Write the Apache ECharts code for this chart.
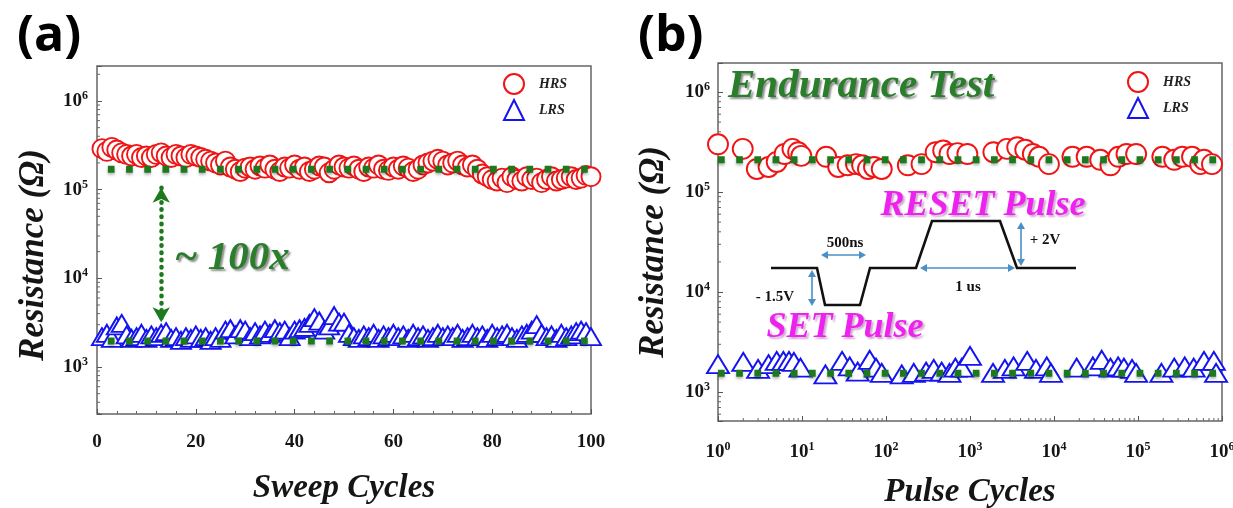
<!DOCTYPE html>
<html><head><meta charset="utf-8">
<script src="https://cdn.jsdelivr.net/npm/echarts@6/dist/echarts.min.js"></script>
<style>html,body{margin:0;padding:0;background:#fff;}#c{width:1233px;height:508px;}</style>
</head><body><div id="c"></div>
<script>
// ---------- DATA ----------
const sweepCycles = [1,2,3,4,5,6,7,8,9,10,11,12,13,14,15,16,17,18,19,20,21,22,23,24,25,26,27,28,29,30,31,32,33,34,35,36,37,38,39,40,41,42,43,44,45,46,47,48,49,50,51,52,53,54,55,56,57,58,59,60,61,62,63,64,65,66,67,68,69,70,71,72,73,74,75,76,77,78,79,80,81,82,83,84,85,86,87,88,89,90,91,92,93,94,95,96,97,98,99,100];
const sweepHRS = [2.9e5,2.7e5,3.0e5,2.8e5,2.6e5,2.5e5,2.4e5,2.5e5,2.3e5,2.4e5,
  2.3e5,2.5e5,2.6e5,2.4e5,2.3e5,2.5e5,2.4e5,2.3e5,2.5e5,2.4e5,
  2.3e5,2.2e5,2.1e5,2.0e5,1.9e5,2.1e5,1.8e5,1.7e5,1.6e5,1.75e5,
  1.8e5,1.7e5,1.85e5,1.75e5,1.9e5,1.7e5,1.6e5,1.8e5,1.75e5,1.9e5,
  1.7e5,1.8e5,1.6e5,1.7e5,1.85e5,1.8e5,1.55e5,1.7e5,1.9e5,1.8e5,
  1.75e5,1.85e5,1.7e5,1.6e5,1.8e5,1.75e5,1.9e5,1.7e5,1.65e5,1.8e5,
  1.7e5,1.85e5,1.75e5,1.6e5,1.7e5,1.9e5,2.0e5,2.1e5,2.2e5,2.1e5,
  1.9e5,2.0e5,2.1e5,1.9e5,1.8e5,1.9e5,1.7e5,1.5e5,1.4e5,1.3e5,
  1.25e5,1.35e5,1.2e5,1.4e5,1.3e5,1.25e5,1.4e5,1.3e5,1.35e5,1.2e5,
  1.3e5,1.4e5,1.25e5,1.3e5,1.35e5,1.4e5,1.3e5,1.35e5,1.45e5,1.4e5];
const sweepLRS = [2.2e3,2.4e3,2.1e3,2.9e3,3.1e3,2.3e3,2.1e3,2.2e3,2.4e3,2.1e3,
  2.3e3,2.2e3,2.4e3,2.5e3,2.1e3,2.2e3,2.0e3,2.2e3,2.1e3,2.3e3,
  2.1e3,2.2e3,2.0e3,2.2e3,2.1e3,2.6e3,2.7e3,2.3e3,2.7e3,2.6e3,
  2.2e3,2.5e3,2.3e3,2.6e3,2.4e3,2.7e3,2.5e3,2.6e3,2.2e3,2.6e3,
  2.7e3,2.8e3,3.1e3,3.6e3,3.3e3,2.6e3,2.9e3,3.8e3,3.2e3,3.2e3,
  2.4e3,2.2e3,2.1e3,2.3e3,2.2e3,2.4e3,2.1e3,2.3e3,2.2e3,2.4e3,
  2.2e3,2.3e3,2.1e3,2.4e3,2.2e3,2.3e3,2.1e3,2.2e3,2.4e3,2.2e3,
  2.3e3,2.2e3,2.4e3,2.1e3,2.2e3,2.4e3,2.2e3,2.3e3,2.1e3,2.4e3,
  2.2e3,2.3e3,2.4e3,2.2e3,2.1e3,2.3e3,2.4e3,2.6e3,3.0e3,2.4e3,
  2.2e3,2.3e3,2.1e3,2.4e3,2.2e3,2.3e3,2.5e3,2.6e3,2.5e3,2.2e3];
const sweepRefHRS = 1.7e5;
const sweepRefLRS = 1.97e3;
const sweepRefX = [2.2, 99.5];
const sweepArrowX = 13;
const sweepArrowEnds = [1.05e5, 3.2e3];

const pulseCyclesHRS = [1,1.97,2.9,4,5,6.2,7.7,9,9.8,19.4,27,35,44,52,61,72,89,182,265,390,480,570,710,930,1900,2750,3650,4550,5600,6650,8700,16600,24500,35500,47000,58500,73000,95000,195000,270000,337000,440000,550000,610000,760000];
const pulseHRS = [3.0e5,2.7e5,1.7e5,1.78e5,2.0e5,2.4e5,2.7e5,2.5e5,2.3e5,2.25e5,1.78e5,1.85e5,1.9e5,1.85e5,1.7e5,1.78e5,1.7e5,1.85e5,1.9e5,2.5e5,2.6e5,2.4e5,2.45e5,2.4e5,2.5e5,2.7e5,2.8e5,2.65e5,2.4e5,2.25e5,1.9e5,2.25e5,2.25e5,2.1e5,1.85e5,2.25e5,2.4e5,2.4e5,2.25e5,2.1e5,2.25e5,2.25e5,1.9e5,2.1e5,1.9e5];
const pulseCyclesLRS = [1,2,3,4,5,6,7,8,9.6,19,30,37,46,64,76,89,154,214,300,370,460,570,670,800,1000,1880,2600,3300,4800,6100,8200,9200,18600,29000,37000,47000,58000,68000,85000,95000,190000,270000,360000,460000,610000,800000,850000];
const pulseLRS = [1.9e3,2.0e3,1.7e3,1.9e3,2.05e3,2.05e3,2.05e3,2.0e3,1.75e3,1.5e3,2.05e3,1.8e3,1.6e3,2.1e3,1.75e3,1.55e3,1.5e3,1.55e3,1.6e3,1.7e3,1.6e3,1.55e3,1.75e3,1.75e3,2.3e3,1.55e3,1.7e3,1.8e3,2.05e3,1.7e3,1.8e3,1.55e3,1.75e3,1.8e3,2.1e3,1.75e3,1.8e3,1.75e3,1.7e3,1.55e3,1.55e3,1.75e3,1.8e3,1.75e3,2.05e3,2.05e3,1.55e3];
const pulseRefHRS = 2.1e5;
const pulseRefLRS = 1.54e3;
const pulseRefX = [1, 850000];

const xTicksSweep = [0,20,40,60,80,100];
const minorMultipliers = [2,3,4,5,6,7,8,9];

// ---------- STYLE ----------
const serif = '"Liberation Serif","DejaVu Serif",serif';
const red = '#f01414', blue = '#1414f0', green = '#1c7a1c';
const titleFont = {fontFamily: serif, fontWeight: 'bold', fontStyle: 'italic', fontSize: 33, color: '#151515'};
const yTitleFont = Object.assign({}, titleFont, {fontSize: 35});
const richPow = {
  b: {fontFamily: serif, fontWeight: 'bold', fontSize: 19, color: '#151515', lineHeight: 22},
  s: {fontFamily: serif, fontWeight: 'bold', fontSize: 12, color: '#151515', verticalAlign: 'top', lineHeight: 12}
};
function pow10Label(v) {
  const e = Math.log10(v), r = Math.round(e);
  if (Math.abs(e - r) > 1e-6) return '';
  return '{b|10}{s|' + r + '}';
}
function minorValues(lo, hi) {
  const out = [];
  for (let d = Math.floor(Math.log10(lo)); d <= Math.ceil(Math.log10(hi)); d++) {
    minorMultipliers.forEach(m => { const v = m * Math.pow(10, d); if (v > lo && v < hi) out.push(v); });
  }
  return out;
}
const yA = [295, 2.48e6], yB = [513, 1.95e6], xB = [1, 1e6];

function yMinorSeries(gi, xMin, range) {
  return {type: 'custom', xAxisIndex: gi, yAxisIndex: gi, silent: true, z: 1,
    data: minorValues(range[0], range[1]).map(v => [xMin, v]),
    renderItem: (p, api) => { const c = api.coord([api.value(0), api.value(1)]);
      return {type: 'line', shape: {x1: c[0], y1: c[1], x2: c[0] + 3, y2: c[1]}, style: {stroke: '#666', lineWidth: 1}}; }};
}
function xMinorSeries(gi, yMin, range) {
  return {type: 'custom', xAxisIndex: gi, yAxisIndex: gi, silent: true, z: 1,
    data: minorValues(range[0], range[1]).map(v => [v, yMin]),
    renderItem: (p, api) => { const c = api.coord([api.value(0), api.value(1)]);
      return {type: 'line', shape: {x1: c[0], y1: c[1], x2: c[0], y2: c[1] - 3}, style: {stroke: '#666', lineWidth: 1}}; }};
}
const refLine = (gi, xs, v) => ({type: 'line', xAxisIndex: gi, yAxisIndex: gi, silent: true, z: 5,
  data: [[xs[0], v], [xs[1], v]], symbol: 'none',
  lineStyle: {color: green, width: 7, type: [6.7, 11.5], cap: 'butt', shadowColor: 'rgba(0,0,0,0.3)', shadowBlur: 3, shadowOffsetY: 2}});
const scatter = (gi, name, xs, ys, sym, size, col) => ({type: 'scatter', name, xAxisIndex: gi, yAxisIndex: gi, z: 3,
  symbol: sym, symbolSize: size, data: xs.map((x, i) => [x, ys[i]]),
  itemStyle: {color: '#fff', borderColor: col, borderWidth: 1.9, opacity: 1}});

const axisTickStyle = {show: true, inside: true, length: 5, lineStyle: {color: '#555', width: 1}};
const legendText = {fontFamily: serif, fontWeight: 'bold', fontStyle: 'italic', fontSize: 14, color: '#222', padding: [0, 0, 0, 10]};

const chart = echarts.init(document.getElementById('c'), null, {renderer: 'canvas'});
const ann = {fontFamily: serif, fontWeight: 'bold', fill: '#111', fontSize: 15};
function dblArrowH(x1, x2, y) {
  return [
    {type: 'line', shape: {x1: x1 + 3, y1: y, x2: x2 - 3, y2: y}, style: {stroke: '#4a8fc6', lineWidth: 1.6}},
    {type: 'polygon', shape: {points: [[x1, y], [x1 + 7, y - 4], [x1 + 7, y + 4]]}, style: {fill: '#4a8fc6'}},
    {type: 'polygon', shape: {points: [[x2, y], [x2 - 7, y - 4], [x2 - 7, y + 4]]}, style: {fill: '#4a8fc6'}}
  ];
}
function dblArrowV(x, y1, y2) {
  return [
    {type: 'line', shape: {x1: x, y1: y1 + 3, x2: x, y2: y2 - 3}, style: {stroke: '#4a8fc6', lineWidth: 1.6}},
    {type: 'polygon', shape: {points: [[x, y1], [x - 4, y1 + 7], [x + 4, y1 + 7]]}, style: {fill: '#4a8fc6'}},
    {type: 'polygon', shape: {points: [[x, y2], [x - 4, y2 - 7], [x + 4, y2 - 7]]}, style: {fill: '#4a8fc6'}}
  ];
}
const shadowGreen = {fill: '#2a7d2a', textShadowColor: 'rgba(0,0,0,0.45)', textShadowBlur: 2, textShadowOffsetX: 2, textShadowOffsetY: 2};
const shadowPink = {fill: '#ee22ee', textShadowColor: 'rgba(120,0,120,0.35)', textShadowBlur: 2, textShadowOffsetX: 2, textShadowOffsetY: 2};
const panelFont = {fontFamily: '"Open Sans", Lato, sans-serif', fontWeight: 'bold', fontSize: 50, fill: '#000'};

const option = {
  animation: false,
  backgroundColor: '#fff',
  grid: [
    {left: 97, top: 66, width: 494, height: 348, show: true, borderColor: '#666', borderWidth: 1.5, containLabel: false, outerBoundsMode: 'none'},
    {left: 718, top: 63, width: 504, height: 358, show: true, borderColor: '#666', borderWidth: 1.5, containLabel: false, outerBoundsMode: 'none'}
  ],
  legend: [
    {data: ['HRS', 'LRS'], orient: 'vertical', left: 498, top: 68, itemWidth: 20, itemHeight: 20, itemGap: 4, selectedMode: false, textStyle: legendText},
    {data: ['HRS', 'LRS'], orient: 'vertical', left: 1122, top: 66, itemWidth: 20, itemHeight: 20, itemGap: 4, selectedMode: false, textStyle: legendText}
  ],
  xAxis: [
    {gridIndex: 0, type: 'value', min: xTicksSweep[0], max: xTicksSweep[xTicksSweep.length - 1], interval: 20,
     axisLine: {show: false}, axisTick: axisTickStyle, minorTick: {show: true, splitNumber: 5, length: 3, lineStyle: {color: '#666'}},
     splitLine: {show: false},
     axisLabel: {margin: 19, fontFamily: serif, fontWeight: 'bold', fontSize: 19, color: '#151515'},
     name: 'Sweep Cycles', nameLocation: 'middle', nameGap: 58, nameTextStyle: titleFont},
    {gridIndex: 1, type: 'log', logBase: 10, min: xB[0], max: xB[1],
     axisLine: {show: false}, axisTick: axisTickStyle, splitLine: {show: false},
     axisLabel: {margin: 20, formatter: pow10Label, rich: richPow, showMinLabel: true, showMaxLabel: true},
     name: 'Pulse Cycles', nameLocation: 'middle', nameGap: 55, nameTextStyle: titleFont}
  ],
  yAxis: [
    {gridIndex: 0, type: 'log', logBase: 10, min: yA[0], max: yA[1],
     axisLine: {show: false}, axisTick: axisTickStyle, splitLine: {show: false},
     axisLabel: {margin: 9, formatter: pow10Label, rich: richPow},
     name: 'Resistance (Ω)', nameLocation: 'middle', nameGap: 46, nameRotate: 90,
     nameTextStyle: Object.assign({padding: [0, 30, 0, 0]}, yTitleFont)},
    {gridIndex: 1, type: 'log', logBase: 10, min: yB[0], max: yB[1],
     axisLine: {show: false}, axisTick: axisTickStyle, splitLine: {show: false},
     axisLabel: {margin: 8, formatter: pow10Label, rich: richPow},
     name: 'Resistance (Ω)', nameLocation: 'middle', nameGap: 47, nameRotate: 90,
     nameTextStyle: Object.assign({padding: [0, 20, 0, 0]}, yTitleFont)}
  ],
  series: [
    yMinorSeries(0, 0, yA),
    yMinorSeries(1, 1, yB),
    xMinorSeries(1, yB[0], xB),
    scatter(0, 'HRS', sweepCycles, sweepHRS, 'circle', 19, red),
    scatter(0, 'LRS', sweepCycles, sweepLRS, 'triangle', [20, 17], blue),
    scatter(1, 'HRS', pulseCyclesHRS, pulseHRS, 'circle', 20, red),
    scatter(1, 'LRS', pulseCyclesLRS, pulseLRS, 'triangle', [22, 18], blue),
    Object.assign(refLine(0, sweepRefX, sweepRefHRS), {
      markLine: {silent: true, symbol: ['arrow', 'arrow'], symbolSize: [13, 15], label: {show: false},
        lineStyle: {color: green, width: 4.5, type: [0.5, 6.7], cap: 'round'},
        data: [[{coord: [sweepArrowX, sweepArrowEnds[0]]}, {coord: [sweepArrowX, sweepArrowEnds[1]]}]]}
    }),
    refLine(0, sweepRefX, sweepRefLRS),
    refLine(1, pulseRefX, pulseRefHRS),
    refLine(1, pulseRefX, pulseRefLRS)
  ],
  graphic: [
    {type: 'text', left: 17, top: 12, style: Object.assign({text: '(a)'}, panelFont)},
    {type: 'text', left: 638, top: 12, style: Object.assign({text: '(b)'}, panelFont)},
    {type: 'text', x: 232, y: 258, style: Object.assign({text: '~ 100x', fontFamily: serif, fontWeight: 'bold', fontStyle: 'italic', fontSize: 41, align: 'center', verticalAlign: 'middle'}, shadowGreen)},
    {type: 'text', x: 728, y: 86, style: Object.assign({text: 'Endurance Test', fontFamily: serif, fontWeight: 'bold', fontStyle: 'italic', fontSize: 41, align: 'left', verticalAlign: 'middle'}, shadowGreen)},
    {type: 'text', x: 983, y: 206, style: Object.assign({text: 'RESET Pulse', fontFamily: serif, fontWeight: 'bold', fontStyle: 'italic', fontSize: 36, align: 'center', verticalAlign: 'middle'}, shadowPink)},
    {type: 'text', x: 845, y: 328, style: Object.assign({text: 'SET Pulse', fontFamily: serif, fontWeight: 'bold', fontStyle: 'italic', fontSize: 36, align: 'center', verticalAlign: 'middle'}, shadowPink)},
    {type: 'polyline', shape: {points: [[771, 268], [817, 268], [825, 305], [860, 305], [870, 268], [916, 268], [932, 221], [1000, 221], [1017, 268], [1076, 268]]}, style: {stroke: '#111', lineWidth: 2.6, fill: null}},
    ...dblArrowH(821, 866, 255),
    ...dblArrowH(920, 1015, 268),
    ...dblArrowV(812, 270, 306),
    ...dblArrowV(1021, 222, 266),
    {type: 'text', x: 845, y: 243, style: Object.assign({text: '500ns', align: 'center', verticalAlign: 'middle'}, ann)},
    {type: 'text', x: 968, y: 287, style: Object.assign({text: '1 us', align: 'center', verticalAlign: 'middle', fontSize: 16}, ann)},
    {type: 'text', x: 775, y: 297, style: Object.assign({text: '- 1.5V', align: 'center', verticalAlign: 'middle'}, ann)},
    {type: 'text', x: 1045, y: 240, style: Object.assign({text: '+ 2V', align: 'center', verticalAlign: 'middle'}, ann)}
  ]
};
chart.setOption(option);
</script></body></html>
